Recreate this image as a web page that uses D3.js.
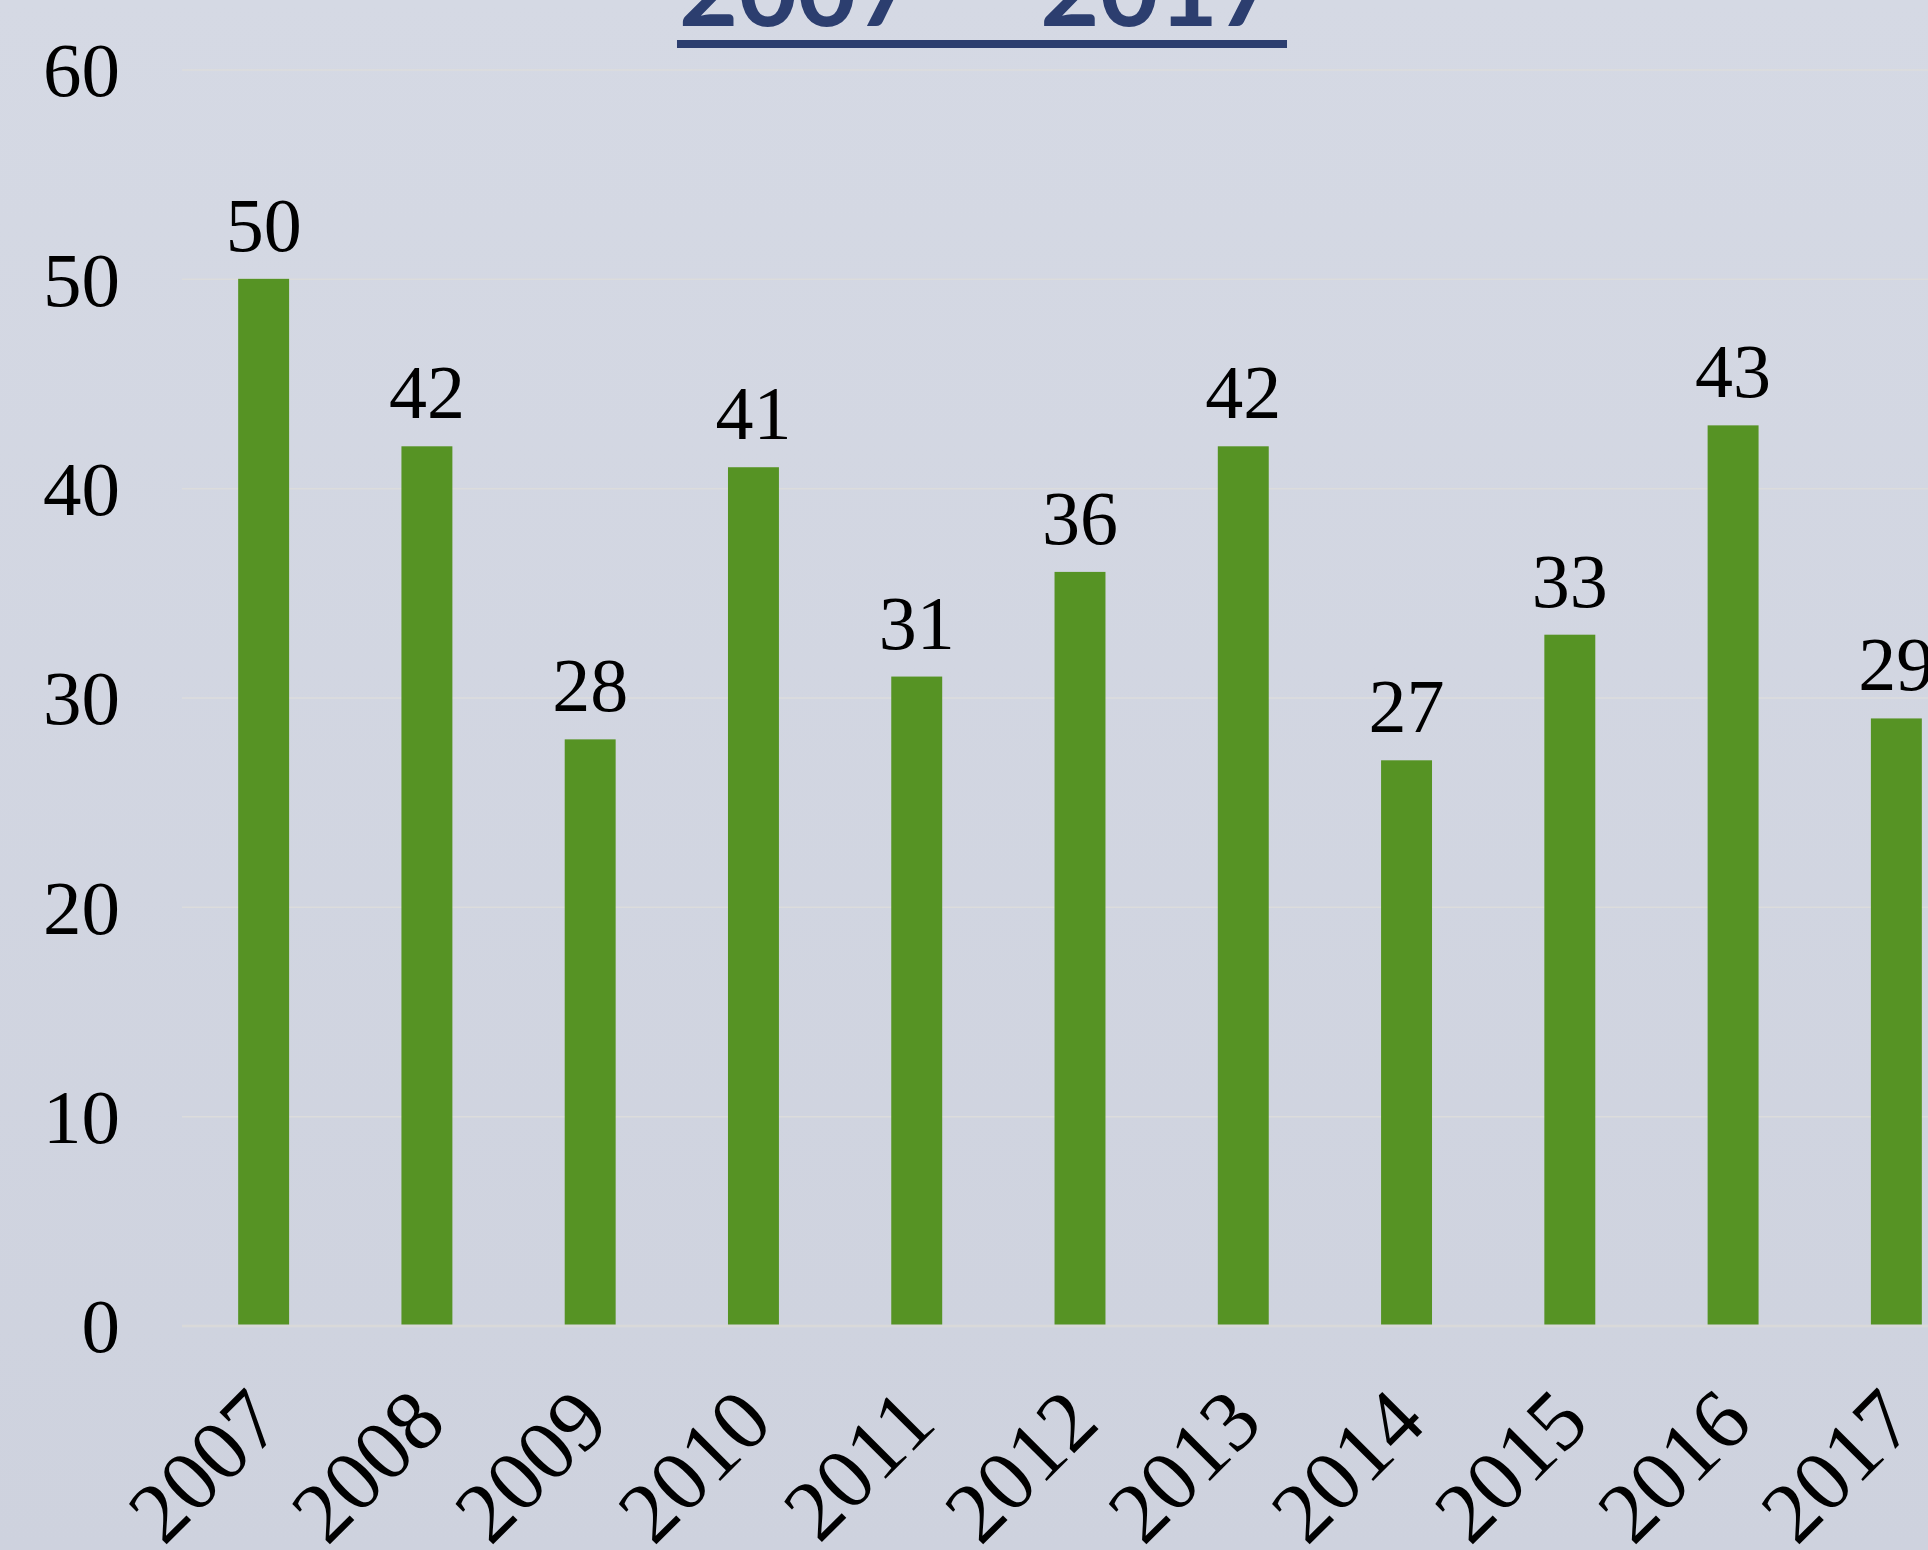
<!DOCTYPE html>
<html>
<head>
<meta charset="utf-8">
<script src="https://cdn.jsdelivr.net/npm/d3@7"></script>
<style>
  html, body { margin: 0; padding: 0; overflow: hidden; }
  svg { display: block; }
  .axis text { font-family: "Liberation Serif", "Times New Roman", serif; font-size: 77px; fill: #000; }
  .axis--x text { font-size: 86px; }
  .label { font-family: "Liberation Serif", "Times New Roman", serif; font-size: 76px; fill: #000; }
  .title { font-family: Lato, "Open Sans", sans-serif; font-weight: bold; font-size: 102px; fill: #2c3e6f; word-spacing: 8px; }
</style>
</head>
<body>
<svg width="1928" height="1550"></svg>
<script>
// data
const years = ["2007", "2008", "2009", "2010", "2011", "2012", "2013", "2014", "2015", "2016", "2017"];
const counts = [50, 42, 28, 41, 31, 36, 42, 27, 33, 43, 29];
const yTicks = [0, 10, 20, 30, 40, 50, 60];
const titleText = "2007 – 2017";

const data = years.map((yr, i) => ({ year: yr, value: counts[i] }));

const svg = d3.select("svg"),
    width = 1928,
    height = 1550,
    plotLeft = 182,
    plotRight = 1978,   // plot runs past the right edge, like the source
    plotTop = 69.5,
    plotBottom = 1325.5;

// background
const defs = svg.append("defs");
const grad = defs.append("linearGradient")
    .attr("id", "bg")
    .attr("x1", 0).attr("y1", 0).attr("x2", 0).attr("y2", 1);
grad.append("stop").attr("offset", "0%").attr("stop-color", "#d5d9e4");
grad.append("stop").attr("offset", "100%").attr("stop-color", "#ced2de");

svg.append("rect")
    .attr("width", width)
    .attr("height", height)
    .attr("fill", "url(#bg)");

const x = d3.scaleBand()
    .domain(years)
    .range([plotLeft, plotRight])
    .paddingInner(0.688)
    .paddingOuter(0.344);

const y = d3.scaleLinear()
    .domain([0, 60])
    .range([plotBottom, plotTop]);

// y axis with gridlines
const yAxis = svg.append("g")
    .attr("class", "axis axis--y")
    .attr("transform", "translate(" + plotLeft + ",0)")
    .call(d3.axisLeft(y)
        .tickValues(yTicks)
        .tickSize(-(width - plotLeft))
        .tickPadding(62)
        .tickFormat(d3.format("d")));

yAxis.select(".domain").remove();
yAxis.selectAll(".tick line")
    .attr("stroke", d => d === 0 ? "#d9d9d9" : "#dcdcdc")
    .attr("stroke-width", d => d === 0 ? 2.5 : 1.5);
yAxis.selectAll(".tick text")
    .attr("dy", "0.34em");

// bars
svg.append("g")
    .selectAll("rect")
    .data(data)
    .enter().append("rect")
    .attr("x", d => x(d.year))
    .attr("y", d => y(d.value))
    .attr("width", x.bandwidth())
    .attr("height", d => y(0) - y(d.value) - 1)
    .attr("fill", "#569324");

// value labels
svg.append("g")
    .selectAll("text")
    .data(data)
    .enter().append("text")
    .attr("class", "label")
    .attr("x", d => x(d.year) + x.bandwidth() / 2)
    .attr("y", d => y(d.value) - 28)
    .attr("text-anchor", "middle")
    .text(d => d.value);

// x axis, rotated year labels
const xAxis = svg.append("g")
    .attr("class", "axis axis--x")
    .attr("transform", "translate(0," + plotBottom + ")")
    .call(d3.axisBottom(x).tickSize(0));

xAxis.select(".domain").remove();
xAxis.selectAll(".tick text")
    .attr("x", 0)
    .attr("y", 0)
    .attr("dy", 0)
    .attr("text-anchor", "end")
    .attr("transform", "translate(22,100) rotate(-45)");

// title, cut off at the top like the source
const title = svg.append("text")
    .attr("class", "title")
    .attr("x", 978)
    .attr("y", 26)
    .attr("text-anchor", "middle")
    .text(titleText);

const tb = title.node().getBBox();
svg.append("rect")
    .attr("x", tb.x - 2)
    .attr("y", 40)
    .attr("width", tb.width + 12)
    .attr("height", 8)
    .attr("fill", "#2c3e6f");
</script>
</body>
</html>
